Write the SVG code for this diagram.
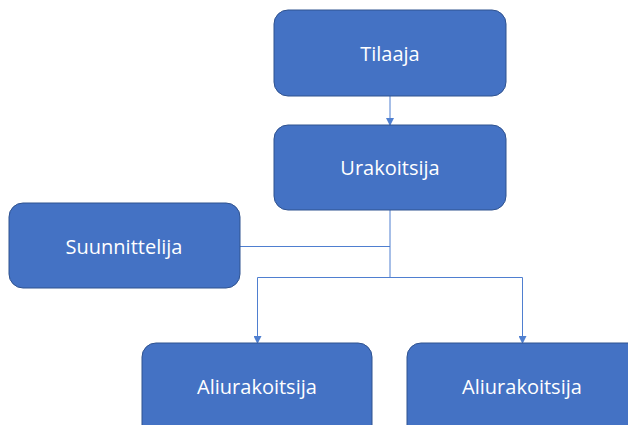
<svg xmlns="http://www.w3.org/2000/svg" width="628" height="425" viewBox="0 0 628 425">
<defs>
<style>
.box{fill:#4472C4;stroke:#2F528F;stroke-width:1}
.lbl{fill:#ffffff;font-family:"Open Sans","Liberation Sans",sans-serif;font-size:20px;text-anchor:middle}
.con{stroke:#4F7FD0;stroke-width:1;fill:none}
</style>
<marker id="ah" markerWidth="8" markerHeight="8" refX="7" refY="4" orient="auto" markerUnits="userSpaceOnUse">
<path d="M0,0 L8,4 L0,8 Z" fill="#4F7FD0"/>
</marker>
</defs>
<rect width="628" height="425" fill="#ffffff"/>
<g id="connectors">
<line class="con" x1="390" y1="96" x2="390" y2="125" marker-end="url(#ah)"/>
<line class="con" x1="240" y1="246.5" x2="390" y2="246.5"/>
<line class="con" x1="390" y1="210" x2="390" y2="277.5"/>
<polyline class="con" points="390,277.5 522.5,277.5 522.5,343" marker-end="url(#ah)"/>
<polyline class="con" points="390,277.5 257.5,277.5 257.5,343" marker-end="url(#ah)"/>
</g>
<g id="tilaaja">
<rect class="box" x="274" y="10" width="232" height="86" rx="14"/>
<text class="lbl" x="390" y="61">Tilaaja</text>
</g>
<g id="urakoitsija">
<rect class="box" x="274" y="125" width="232" height="85" rx="14"/>
<text class="lbl" x="390" y="175">Urakoitsija</text>
</g>
<g id="suunnittelija">
<rect class="box" x="9" y="203" width="231" height="85" rx="14"/>
<text class="lbl" x="124" y="254">Suunnittelija</text>
</g>
<g id="aliurakoitsija1">
<rect class="box" x="142" y="343" width="230" height="100" rx="14"/>
<text class="lbl" x="257" y="394">Aliurakoitsija</text>
</g>
<g id="aliurakoitsija2">
<rect class="box" x="407" y="343" width="240" height="100" rx="14"/>
<text class="lbl" x="522" y="394">Aliurakoitsija</text>
</g>
</svg>
